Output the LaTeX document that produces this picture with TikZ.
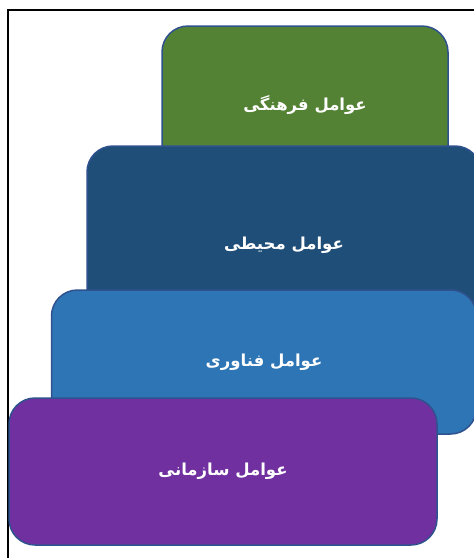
\documentclass[tikz,border=0pt]{standalone}
\usepackage{fontspec}
\TeXXeTstate=1
\newfontfamily\arabicfont[Script=Arabic]{DejaVu Sans}
\definecolor{cgreen}{HTML}{548235}
\definecolor{cdark}{HTML}{1F4E79}
\definecolor{cmid}{HTML}{2E75B6}
\definecolor{cpurple}{HTML}{7030A0}
\definecolor{cedge}{HTML}{2F528F}
\begin{document}
\begin{tikzpicture}[x=1pt,y=-1pt,
  layer/.style={rectangle, rounded corners=26pt, draw=cedge, line width=1.5pt,
    inner sep=0pt, text=white, font=\arabicfont\bfseries\fontsize{16.5}{19}\selectfont}]
\clip (0,0) rectangle (474,558);
\fill[white] (0,0) rectangle (474,558);
\draw[line width=2.6pt] (8,10) coordinate (fa) rectangle (500,580) coordinate (fb);
\node[layer, fill=cgreen, minimum width=286pt, minimum height=159pt] (cult) at (305,105.5) {\beginR عوامل فرهنگی\endR};
\node[layer, fill=cdark, minimum width=394pt, minimum height=198pt] (env) at (284,245) {\beginR عوامل محیطی\endR};
\node[layer, fill=cmid, minimum width=425pt, minimum height=144pt] (tech) at (264,362) {\beginR عوامل فناوری\endR};
\node[layer, fill=cpurple, minimum width=428pt, minimum height=147pt] (org) at (223,471.5) {\beginR عوامل سازمانی\endR};
\end{tikzpicture}
\end{document}
